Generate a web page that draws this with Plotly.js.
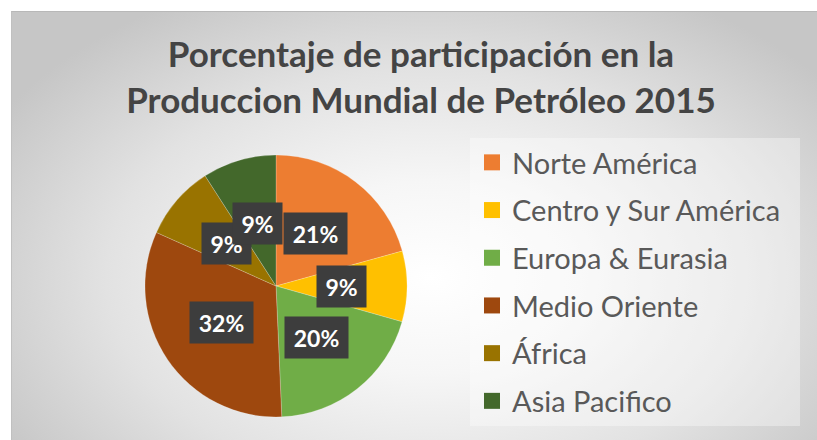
<!DOCTYPE html>
<html>
<head>
<meta charset="utf-8">
<script src="https://cdn.plot.ly/plotly-3.0.1.min.js"></script>
<style>
  html, body { margin: 0; padding: 0; background: #ffffff; }
  #wrap { position: relative; width: 817px; height: 440px; overflow: hidden; }
  #bg { position: absolute; left: 11px; top: 11px; right: 0; bottom: 0;
        background: radial-gradient(ellipse 62% 75% at 52% 62%, #ffffff 0%, #f6f6f6 30%, #e2e2e2 65%, #c6c6c6 100%);
        border-top: 1px solid #b8b8b8; border-left: 1px solid #c0c0c0; }
  #chart { position: absolute; left: 0; top: 0; width: 817px; height: 440px; }
</style>
</head>
<body>
<div id="wrap"><div id="bg"></div><div id="chart"></div></div>
<script>
// ---- data ----
const categories = ['Norte América', 'Centro y Sur América', 'Europa & Eurasia', 'Medio Oriente', 'África', 'Asia Pacifico'];
const shares = [20.7, 8.7, 19.9, 32.4, 9.2, 9.1];
const pctLabels = ['21%', '9%', '20%', '32%', '9%', '9%'];
const colors = ['#ED7D31', '#FFC000', '#70AD47', '#9E480E', '#997300', '#43682B'];
const titleText = 'Porcentaje de participación en la<br>Produccion Mundial de Petróleo 2015';

// ---- layout constants ----
const W = 817, H = 440;
const cx = 276, cy = 286, R = 131;
const FONT = 'Lato, "Open Sans", sans-serif';

const pie = {
  type: 'pie',
  labels: categories,
  values: shares,
  sort: false,
  direction: 'clockwise',
  rotation: 0,
  textinfo: 'none',
  hoverinfo: 'label+percent',
  showlegend: false,
  marker: { colors: colors, line: { color: 'rgba(255,255,255,0.35)', width: 0.6 } },
  domain: { x: [(cx - R) / W, (cx + R) / W], y: [1 - (cy + R) / H, 1 - (cy - R) / H] }
};

// legend entries (one per category) so each row gets its own spacing
const legendTraces = categories.map((c, i) => ({
  type: 'scatter', mode: 'markers', x: [null], y: [null],
  name: c, legendgroup: 'g' + i, showlegend: true, hoverinfo: 'skip',
  marker: { symbol: 'square', size: 16, color: colors[i] }
}));

// data labels at half radius on each slice's mid angle
const total = shares.reduce((a, b) => a + b, 0);
let cum = 0;
const annotations = shares.map((v, i) => {
  const mid = (cum + v / 2) / total * 2 * Math.PI;
  cum += v;
  const px = cx + 0.5 * R * Math.sin(mid);
  const py = cy - 0.5 * R * Math.cos(mid);
  return {
    xref: 'paper', yref: 'paper', x: px / W, y: 1 - py / H,
    xanchor: 'center', yanchor: 'middle', showarrow: false,
    text: '<b>' + pctLabels[i] + '</b>',
    font: { family: FONT, size: 23, color: '#ffffff' },
    bgcolor: '#3d3d3d', borderpad: 2,
    width: pctLabels[i].length * 14 + 17, height: 37
  };
});

const layout = {
  width: W, height: H,
  margin: { l: 0, r: 0, t: 0, b: 0 },
  paper_bgcolor: 'rgba(0,0,0,0)',
  plot_bgcolor: 'rgba(0,0,0,0)',
  title: {
    text: titleText,
    font: { family: FONT, size: 35, color: '#444444', weight: 'bold' },
    x: 421 / W, xanchor: 'center', xref: 'paper',
    y: 1 - 67 / H, yanchor: 'middle', yref: 'paper'
  },
  xaxis: { visible: false, domain: [0.99, 1] },
  yaxis: { visible: false, domain: [0.99, 1] },
  showlegend: true,
  legend: {
    x: 472 / W, xanchor: 'left', y: 1 - 137 / H, yanchor: 'top',
    bgcolor: 'rgba(0,0,0,0)', borderwidth: 0,
    font: { family: FONT, size: 29, color: '#595959' },
    tracegroupgap: 7, itemclick: false, itemdoubleclick: false
  },
  shapes: [{
    type: 'rect', xref: 'paper', yref: 'paper', layer: 'below',
    x0: 470 / W, x1: 800 / W, y0: 1 - 426 / H, y1: 1 - 138 / H,
    fillcolor: 'rgba(255,255,255,0.35)', line: { width: 0 }
  }],
  annotations: annotations
};

Plotly.newPlot('chart', [pie].concat(legendTraces), layout, { displayModeBar: false, staticPlot: true });
</script>
</body>
</html>
